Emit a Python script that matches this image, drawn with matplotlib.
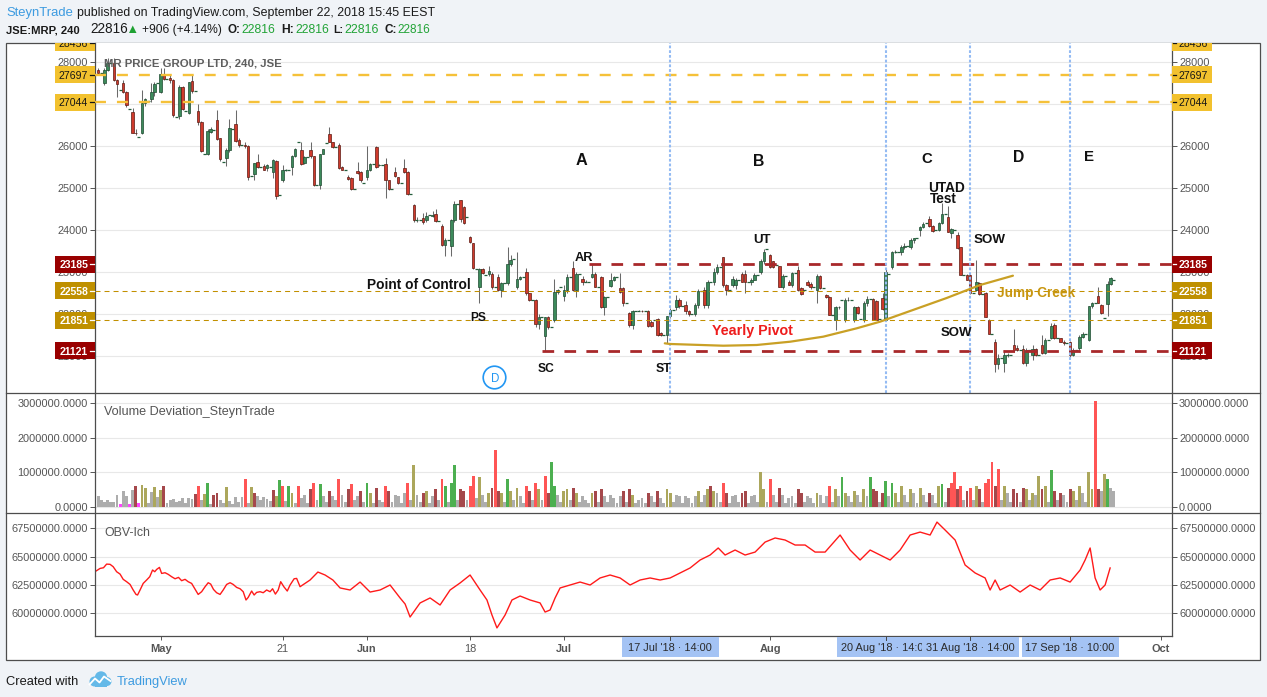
import matplotlib
matplotlib.use("Agg")
import matplotlib.pyplot as plt
import matplotlib.transforms as mtransforms
from matplotlib.patches import Rectangle, Circle, Polygon
from matplotlib.lines import Line2D
from matplotlib.ticker import FuncFormatter
import numpy as np

plt.rcParams['lines.scale_dashes'] = False
plt.rcParams['font.family'] = ['Liberation Sans', 'DejaVu Sans']

# ---------------- data ----------------
# bar index: 0 = 2 May 2018 10:00 ; three 4h bars per JSE day (10:00, 14:00, 18:00 auction)
first_bar = -20

opens = [
    27800, 27740,
    27490, 27810, 27980, 27980, 27560, 27330, 27490, 27280, 26880, 26820, 26320, 26210,
    26320, 27020, 27080, 27120, 27280, 27490, 27290, 27710, 27600, 27630, 27560, 26700,
    26710, 27400, 26830, 26790, 27540, 27300, 26830, 26560, 25800, 25820, 26330, 26380,
    26620, 26180, 25610, 25720, 25900, 26410, 26520, 26140, 26020, 26030, 26000, 25290,
    25330, 25630, 25510, 25520, 25470, 25500, 25370, 25640, 24830, 25180, 25430, 25430,
    25510, 25760, 26090, 25900, 25590, 25730, 25900, 25750, 25060, 25060, 25820, 26060,
    26280, 26090, 25970, 26020, 25510, 25440, 25270, 25230, 24970, 25400, 25390, 25130,
    25250, 25430, 25560, 25970, 25540, 25550, 25560, 25180, 24970, 25370, 25250, 25130,
    25470, 25370, 24860, 24600, 24240, 24240, 24280, 24240, 24360, 24340, 24370, 24220,
    24100, 23640, 23750, 23620, 24240, 24610, 24710, 24540, 24300, 23830, 23680, 23070,
    22650, 23060, 22930, 22950, 22950, 22650, 22870, 22570, 22730, 22730, 23190, 23300,
    22650, 22830, 22880, 22990, 22490, 22330, 22330, 21750, 21940, 21470, 21940, 21690,
    21860, 22530, 22650, 22430, 22570, 22870, 23090, 22570, 22950, 22830, 22760, 22760,
    22870, 22950, 22650, 22870, 22160, 22400, 22670, 22810, 22870, 22610, 22610, 22250,
    22020, 21740, 22080, 22080, 22080, 22070, 22060, 21820, 21850, 21870, 21550, 21500,
    21500, 21950, 22100, 22170, 22330, 22180, 22210, 22060, 22000, 22000, 22210, 22550,
    22570, 22210, 22770, 22770, 23010, 23130, 23350, 22690, 22570, 22690, 22680, 22800,
    22950, 22950, 22770, 22750, 22810, 22930, 23010, 23250, 23550, 23400, 23250, 23170,
    23140, 22650, 22900, 22770, 22690, 22970, 23050, 22610, 22560, 22770, 22720, 22640,
    22570, 22900, 22610, 22450, 22400, 21980, 21860, 22160, 22330, 21860, 22330, 22340,
    21860, 22160, 21870, 21860, 22250, 22350, 22350, 22300, 21880, 22370, 21860, 22950,
    23110, 23480, 23480, 23480, 23600, 23620, 23600, 23760, 23800, 24000, 24080, 24160,
    24250, 24100, 23990, 24000, 24160, 24380, 24320, 23940, 24000, 23880, 23590, 22930,
    22930, 22930, 22490, 22570, 22730, 22480, 22510, 21860, 21520, 21340, 20800, 20950,
    20830, 21020, 21020, 21260, 21200, 21140, 21160, 20830, 21140, 21020, 21160, 21020,
    21260, 21080, 21380, 21420, 21740, 21420, 21420, 21340, 21300, 21340, 21030, 21140,
    21180, 21460, 21520, 21380, 22180, 22250, 22430, 22210, 21910, 22240, 22710, 22816,
]
highs = [
    27850, 27740,
    27850, 28100, 27980, 28100, 27600, 27330, 27560, 27300, 26880, 26900, 26400, 26210,
    27330, 27150, 27080, 27490, 27520, 27490, 27850, 27850, 27600, 27680, 27600, 26700,
    27450, 27420, 26830, 27520, 27700, 27300, 27000, 26600, 25800, 26400, 26450, 26380,
    26850, 26200, 25610, 25950, 26650, 26410, 26850, 26180, 26020, 26100, 26030, 25290,
    25600, 25800, 25510, 25560, 25560, 25500, 25680, 25660, 24830, 25540, 25450, 25430,
    25780, 25950, 26090, 26100, 25750, 25730, 26100, 25760, 25060, 25820, 25940, 26060,
    26450, 26100, 25970, 26080, 25530, 25440, 25300, 25250, 24970, 25630, 25400, 25130,
    26000, 25600, 25560, 26000, 25560, 25550, 25710, 25200, 24970, 25500, 25260, 25130,
    25700, 25400, 24860, 24620, 24300, 24240, 24400, 24420, 24360, 24450, 24500, 24220,
    24150, 23800, 23750, 24250, 24700, 24610, 24720, 24560, 24300, 23850, 23700, 23070,
    23100, 23100, 22930, 23150, 23000, 22650, 22950, 22750, 22730, 23590, 23400, 23300,
    23480, 22900, 22880, 23100, 22500, 22330, 22350, 22000, 21940, 21940, 21960, 21690,
    22830, 22600, 22650, 22700, 22950, 22870, 23250, 23000, 22950, 22900, 22800, 22760,
    23200, 23000, 22650, 22900, 22420, 22400, 22970, 22900, 22870, 22970, 22650, 22250,
    22050, 22100, 22080, 22100, 22100, 22070, 22100, 21850, 21850, 21900, 21580, 21500,
    21950, 22150, 22100, 22450, 22380, 22180, 22300, 22100, 22000, 22250, 22600, 22550,
    22650, 22800, 22770, 23100, 23200, 23130, 23360, 22720, 22570, 22900, 22850, 22800,
    23000, 23050, 22770, 22850, 22980, 22930, 23300, 23550, 23550, 23420, 23260, 23170,
    23150, 22950, 22900, 22800, 22990, 22970, 23150, 22650, 22560, 22800, 22750, 22640,
    22950, 22920, 22610, 22470, 22420, 21980, 22200, 22200, 22330, 22380, 22400, 22340,
    22200, 22180, 21870, 22300, 22420, 22350, 22380, 22330, 21880, 22500, 23100, 22950,
    23500, 23520, 23480, 23650, 23700, 23620, 23800, 23820, 23800, 24100, 24180, 24160,
    24330, 24120, 23990, 24200, 24640, 24380, 24570, 24050, 24000, 23950, 23600, 22930,
    22960, 22950, 22490, 23290, 22760, 22480, 22520, 21870, 21520, 21400, 21050, 20950,
    21150, 21060, 21020, 21650, 21250, 21140, 21260, 21200, 21140, 21250, 21200, 21020,
    21500, 21420, 21380, 21780, 21780, 21420, 21430, 21380, 21300, 21350, 21200, 21140,
    21500, 21560, 21520, 22200, 22280, 22250, 22650, 22230, 21910, 22780, 22880, 22816,
]
lows = [
    27700, 27740,
    27460, 27780, 27980, 27540, 27170, 27330, 27250, 26940, 26880, 26300, 26250, 26210,
    26280, 26950, 27080, 27050, 27200, 27490, 27250, 27560, 27600, 27500, 26700, 26700,
    26650, 26850, 26830, 26750, 27250, 27300, 26500, 25850, 25800, 25780, 26300, 26380,
    26150, 25650, 25610, 25530, 25850, 26410, 26100, 25980, 26020, 25950, 25200, 25290,
    25200, 25480, 25510, 25420, 25400, 25500, 25230, 24730, 24830, 25150, 25400, 25430,
    25300, 25740, 26090, 25550, 25560, 25730, 25720, 25050, 25060, 24980, 25800, 26060,
    26090, 25950, 25970, 25450, 25420, 25440, 25190, 24950, 24970, 25330, 25150, 25130,
    25200, 25400, 25560, 25470, 25520, 25550, 24750, 24950, 24970, 25270, 25100, 25130,
    25360, 24840, 24860, 24200, 24200, 24240, 24150, 24200, 24360, 24300, 24200, 24220,
    23620, 23380, 23750, 23380, 24200, 24610, 24200, 24150, 24300, 23700, 23080, 23070,
    22250, 22950, 22930, 22900, 22600, 22650, 22550, 22400, 22730, 22700, 23150, 23300,
    22600, 22800, 22880, 22450, 22300, 22330, 21700, 21650, 21940, 21121, 21650, 21690,
    21800, 22480, 22650, 22300, 22500, 22870, 22550, 22400, 22950, 22700, 22750, 22760,
    22850, 22640, 22650, 22150, 21980, 22400, 22650, 22790, 22870, 22500, 22200, 22250,
    21700, 21650, 22080, 22060, 22050, 22070, 21700, 21690, 21850, 21480, 21480, 21500,
    21300, 21900, 22100, 22100, 22150, 22180, 22000, 21950, 22000, 21950, 22150, 22550,
    22150, 22150, 22770, 22700, 22950, 23130, 22650, 22450, 22570, 22650, 22600, 22800,
    22750, 22500, 22770, 22700, 22800, 22930, 22950, 23200, 23550, 23100, 23100, 23170,
    22650, 22600, 22900, 22680, 22650, 22970, 22550, 22450, 22560, 22660, 22600, 22640,
    22250, 22600, 22610, 22380, 21980, 21980, 21620, 22130, 22330, 21800, 22300, 22340,
    21800, 22000, 21870, 21800, 22200, 22350, 21850, 21850, 21880, 22100, 21850, 22950,
    23080, 23450, 23480, 23400, 23550, 23620, 23550, 23700, 23800, 23850, 24050, 24160,
    24080, 23960, 23990, 23980, 24150, 24380, 23950, 23800, 24000, 23550, 22920, 22930,
    22800, 22480, 22490, 22550, 22460, 22480, 21930, 21520, 21520, 20630, 20700, 20950,
    20630, 20980, 21020, 21100, 21120, 21140, 20800, 20750, 21140, 20900, 21000, 21020,
    21050, 21050, 21380, 21400, 21400, 21420, 21330, 21250, 21300, 20980, 21000, 21140,
    21100, 21440, 21520, 21350, 22150, 22250, 22250, 22000, 21910, 21950, 22680, 22816,
]
closes = [
    27730, 27740,
    27810, 27980, 27980, 27560, 27470, 27330, 27290, 26980, 26880, 26320, 26300, 26210,
    27020, 27110, 27080, 27280, 27480, 27490, 27710, 27590, 27600, 27570, 26740, 26700,
    27400, 26870, 26830, 27520, 27320, 27300, 26560, 25890, 25800, 26360, 26400, 26380,
    26160, 25680, 25610, 25900, 26420, 26410, 26130, 26020, 26020, 26000, 25250, 25290,
    25590, 25510, 25510, 25440, 25540, 25500, 25660, 24810, 24830, 25430, 25430, 25430,
    25760, 25930, 26090, 25570, 25730, 25730, 25750, 25070, 25060, 25810, 25930, 26060,
    26100, 25970, 25970, 25470, 25440, 25440, 25210, 24970, 24970, 25350, 25190, 25130,
    25440, 25560, 25560, 25490, 25550, 25550, 25180, 24970, 24970, 25290, 25130, 25130,
    25370, 24860, 24860, 24240, 24240, 24240, 24190, 24340, 24360, 24360, 24220, 24220,
    23640, 23750, 23750, 24240, 24610, 24610, 24260, 24160, 24300, 23710, 23090, 23070,
    23060, 22970, 22930, 23030, 22650, 22650, 22570, 22730, 22730, 23190, 23290, 23300,
    22830, 22880, 22880, 22490, 22330, 22330, 21750, 21940, 21940, 21940, 21680, 21690,
    22530, 22560, 22650, 22570, 22870, 22870, 22570, 22950, 22950, 22760, 22760, 22760,
    22950, 22650, 22650, 22160, 22400, 22400, 22810, 22870, 22870, 22530, 22250, 22250,
    21740, 22060, 22080, 22080, 22070, 22070, 21710, 21710, 21850, 21500, 21500, 21500,
    21950, 22100, 22100, 22330, 22180, 22180, 22060, 22000, 22000, 22210, 22550, 22550,
    22210, 22770, 22770, 23010, 23130, 23130, 22690, 22570, 22570, 22830, 22800, 22800,
    22770, 22770, 22770, 22800, 22930, 22930, 23250, 23480, 23550, 23130, 23130, 23170,
    22650, 22900, 22900, 22690, 22970, 22970, 22570, 22480, 22560, 22680, 22640, 22640,
    22900, 22610, 22610, 22400, 21980, 21980, 22160, 22170, 22330, 22330, 22340, 22340,
    22160, 22020, 21870, 22250, 22350, 22350, 21860, 21860, 21880, 22130, 23010, 22950,
    23480, 23480, 23480, 23600, 23620, 23620, 23760, 23800, 23800, 24080, 24140, 24160,
    24100, 23980, 23990, 24160, 24380, 24380, 23960, 24020, 24000, 23560, 22930, 22930,
    22810, 22490, 22490, 22750, 22480, 22480, 21940, 21520, 21520, 20800, 20950, 20950,
    21020, 21020, 21020, 21140, 21140, 21140, 20830, 21140, 21140, 21160, 21020, 21020,
    21080, 21380, 21380, 21720, 21420, 21420, 21340, 21300, 21300, 21030, 21140, 21140,
    21460, 21520, 21520, 22180, 22250, 22250, 22270, 22020, 21910, 22710, 22850, 22816,
]

# volume deviation (thousands of shares) and colour class per bar
volumes_k = [
    320, 180,
    150, 190, 140, 130, 350, 80, 450, 300, 70, 480, 600, 100,
    620, 550, 120, 420, 570, 280, 490, 600, 100, 200, 230, 130,
    160, 250, 110, 250, 220, 380, 600, 190, 370, 700, 80, 330,
    400, 180, 100, 570, 160, 90, 280, 140, 280, 800, 120, 570,
    400, 300, 180, 280, 220, 160, 480, 300, 780, 600, 160, 600,
    400, 110, 600, 250, 350, 120, 520, 700, 200, 650, 300, 150,
    450, 300, 180, 800, 350, 150, 500, 650, 200, 300, 450, 150,
    700, 400, 120, 550, 200, 150, 600, 450, 150, 350, 300, 120,
    400, 700, 200, 1200, 350, 150, 400, 450, 120, 300, 500, 200,
    800, 600, 150, 700, 1200, 200, 500, 450, 200, 600, 900, 250,
    850, 350, 150, 400, 550, 1650, 450, 400, 150, 800, 450, 200,
    550, 300, 120, 600, 450, 200, 700, 500, 180, 900, 400, 1300,
    600, 350, 150, 450, 500, 200, 550, 400, 150, 300, 200, 120,
    400, 450, 150, 500, 300, 150, 350, 250, 100, 300, 450, 150,
    500, 350, 120, 200, 250, 100, 400, 300, 150, 450, 250, 120,
    500, 400, 150, 350, 300, 120, 300, 250, 100, 300, 450, 150,
    350, 500, 600, 450, 400, 150, 700, 400, 120, 300, 350, 150,
    400, 450, 120, 300, 350, 150, 1000, 500, 150, 800, 350, 150,
    550, 350, 120, 250, 300, 100, 500, 400, 150, 300, 250, 100,
    400, 350, 120, 300, 600, 150, 500, 300, 850, 400, 300, 150,
    450, 350, 150, 500, 300, 850, 500, 450, 150, 400, 750, 300,
    700, 400, 150, 600, 350, 150, 500, 400, 120, 550, 350, 150,
    400, 350, 120, 600, 650, 150, 550, 700, 1000, 500, 600, 200,
    450, 550, 200, 600, 500, 150, 700, 800, 1300, 600, 1100, 200,
    600, 400, 150, 500, 400, 150, 550, 500, 200, 400, 350, 900,
    500, 600, 150, 1050, 450, 200, 400, 350, 150, 500, 450, 200,
    600, 400, 150, 1000, 500, 3050, 500, 450, 950, 800, 550, 450,
]
vol_kind = "".join([
    "nn",
    "nnn", "nnm", "nnm", "ndm", "oon", "non", "odn", "nnn", "nnn", "nnd", "rno", "gnd",
    "dnn", "onn", "nnn", "rno", "dnn", "nnn", "dog", "rng", "onr", "nnn", "drn", "gnn",
    "dnn", "rnn", "drn", "ndn", "gon", "dnn", "rdn", "nnn", "nrn", "onn", "don", "ndn",
    "rgn", "ggn", "ddn", "rrn", "onn", "odr", "don", "gon", "onn", "rdn", "ron", "rdg",
    "gnn", "oon", "don", "nnn", "odn", "dnn", "nnn", "ndn", "don", "nnn", "dnn", "dnn",
    "oon", "nnn", "nnn", "non", "nod", "onn", "rdn", "nnn", "ddn", "nnn", "oon", "rnn",
    "dnn", "nnn", "ddn", "nnn", "onn", "nrn", "ong", "onn", "onn", "ong", "ddn", "dgn",
    "gon", "onn", "onn", "onn", "dnn", "ogn", "drr", "drn", "drn", "odn", "rrr", "drn",
    "onn", "ddn", "don", "ono", "don", "gdn", "dnn", "don", "onn", "oor", "dno", "gnn",
])

# OBV-Ich line (bar position, value in millions)
obv_bar = [-20.7, -19.4, -18.3, -17.3, -16.2, -15.2, -14.1, -13.0, -12.0, -10.9, -9.8, -8.8,
           -7.9, -7.4, -6.6, -5.6, -4.5, -3.5, -2.6, -1.9, -1.3, -0.4, 0.3, 1.4, 2.4, 3.5,
           4.6, 5.7, 6.7, 7.8, 8.8, 9.9, 11.0, 12.0, 13.1, 14.2, 15.2, 16.0, 16.9, 17.9,
           19.0, 20.0, 21.1, 22.2, 23.2, 24.3, 25.4, 26.4, 27.3, 28.0, 29.1, 29.9, 30.7,
           31.8, 32.8, 33.9, 35.0, 35.8, 36.7, 37.6, 38.4, 39.4, 40.5, 41.4, 42.7, 43.5,
           44.6, 47.8, 50.3, 52.6, 55.1, 57.4, 60.6, 63.8, 67.0, 70.2, 73.4, 76.6, 78.2,
           79.8, 83.0, 86.2, 89.4, 92.6, 95.8, 99.0, 102.2, 104.4, 106.0, 107.6, 110.2,
           112.4, 115.0, 118.2, 121.4, 123.0, 124.6, 126.2, 127.8, 131.0, 134.2, 137.4,
           140.6, 143.8, 147.0, 150.2, 153.4, 156.6, 159.8, 163.0, 166.2, 169.4, 172.6,
           175.8, 178.4, 180.6, 183.8, 187.0, 190.2, 193.4, 196.6, 199.8, 203.0, 206.2,
           209.4, 212.6, 217.4, 220.6, 223.8, 227.0, 230.2, 233.4, 236.6, 239.8, 243.0,
           246.2, 248.4, 251.0, 254.2, 257.4, 260.6, 263.8, 265.4, 267.0, 268.6, 271.8,
           275.0, 278.2, 281.4, 284.6, 287.8, 291.0, 294.2, 295.8, 297.4, 299.0, 300.6,
           302.2, 303.8]
obv_val = [63.73, 63.96, 64.02, 64.34, 64.32, 64.11, 63.67, 63.46, 63.00, 62.79, 62.55, 62.06,
           61.67, 61.62, 62.06, 62.64, 62.94, 63.23, 63.82, 63.67, 63.87, 64.05, 63.52, 63.58,
           63.44, 63.23, 63.05, 63.17, 62.88, 63.00, 62.79, 62.64, 62.14, 61.67, 61.91, 62.35,
           62.70, 62.58, 62.11, 61.82, 61.67, 62.06, 62.55, 62.70, 62.55, 62.29, 62.17, 61.91,
           61.18, 61.41, 61.97, 61.62, 61.85, 61.91, 61.82, 62.06, 61.91, 62.17, 61.70, 62.06,
           62.79, 62.35, 61.97, 62.50, 63.05, 63.08, 62.35, 62.94, 63.64, 63.38, 62.94, 62.24,
           62.06, 62.76, 61.88, 62.06, 62.50, 61.36, 60.83, 59.68, 60.92, 61.36, 60.74, 62.06,
           62.68, 63.38, 62.06, 61.18, 59.86, 58.72, 59.86, 61.18, 61.53, 61.18, 60.92, 60.12,
           60.30, 61.36, 62.24, 62.50, 62.76, 62.50, 63.12, 63.38, 63.12, 62.50, 62.94, 63.12,
           62.94, 63.12, 63.56, 64.00, 64.70, 65.14, 65.76, 65.14, 65.58, 65.14, 65.40, 66.28,
           66.64, 66.46, 66.02, 66.02, 65.40, 65.40, 66.90, 65.58, 64.70, 65.58, 65.14, 64.70,
           65.58, 66.90, 67.16, 66.90, 68.04, 67.34, 66.46, 64.26, 63.56, 63.12, 62.06, 62.94,
           62.06, 62.50, 61.88, 62.50, 62.06, 62.94, 63.12, 62.76, 63.82, 64.70, 65.76, 63.12,
           62.06, 62.50, 64.00]

# horizontal levels
yellow_levels = [27697, 27044]
red_levels = [23185, 21121]
red_level_start = [137, 122]          # AR bar, SC bar
gold_levels = [22558, 21851]           # Point of Control, PS level
marker_bars = [163, 232, 259, 291]
marker_labels = ["17 Jul '18 \u00b7 14:00", "20 Aug '18 \u00b7 14:00",
                 "31 Aug '18 \u00b7 14:00", "17 Sep '18 \u00b7 10:00"]
axis_label_values = [28456, 27697, 27044, 23185, 22558, 21851, 21121]
axis_label_kinds = ['y', 'y', 'y', 'r', 'g', 'g', 'r']
# hand-drawn "Jump Creek" curve
curve_bar = [161.3, 163.0, 180.0, 190.7, 201.4, 212.0, 222.7, 230.2, 240.7, 251.5, 262.2, 272.7]
curve_price = [21302, 21286, 21245, 21262, 21340, 21460, 21659, 21817, 22095, 22381, 22690, 22912]
price_ticks = [21000, 22000, 23000, 24000, 25000, 26000, 27000, 28000]
price_tick_labels = ['21000', '22000', '23000', '24000', '25000', '26000', '', '28000']
time_tick_bars = [0, 39, 66, 99, 129, 195, 320]
time_tick_labels = ['May', '21', 'Jun', '18', 'Jul', 'Aug', 'Oct']

# ---------------- figure ----------------
W, H = 1267, 697
fig = plt.figure(figsize=(W / 100, H / 100), dpi=100)
fig.patch.set_facecolor('#f0f3f7')
pxT = mtransforms.Affine2D().scale(1.0 / W, -1.0 / H).translate(0, 1) + fig.transFigure
renderer = fig.canvas.get_renderer()
GRAY = '#555555'
EDGE = '#4d4d4d'


def rect_px(x0, y0, x1, y1):
    return [x0 / W, 1 - y1 / H, (x1 - x0) / W, (y1 - y0) / H]


def put(s, x, y, width=None, size=10, ha='left', va='baseline', **kw):
    t = fig.text(x, y, s, transform=pxT, fontsize=size, ha=ha, va=va, **kw)
    if width:
        w = t.get_window_extent(renderer=renderer).width
        if w > 0:
            t.set_fontsize(size * width / w)
    return t


fig.add_artist(Rectangle((6, 43), 1254, 617, transform=pxT, facecolor='white',
                         edgecolor=EDGE, lw=0.9, zorder=-1))

L, R = 95, 1172
ax_p = fig.add_axes(rect_px(L, 43, R, 393))
ax_v = fig.add_axes(rect_px(L, 393, R, 513), sharex=ax_p)
ax_o = fig.add_axes(rect_px(L, 513, R, 636), sharex=ax_p)

for ax in (ax_p, ax_v, ax_o):
    ax.set_facecolor('white')
    for s in ax.spines.values():
        s.set_color(EDGE)
        s.set_linewidth(0.9)
    ax.spines['top'].set_visible(False)
    ax.tick_params(axis='y', which='both', left=True, right=True, labelleft=True,
                   labelright=True, direction='out', length=3.6, width=0.7, color=GRAY,
                   labelcolor=GRAY, labelsize=7.9, pad=1.5)
    ax.grid(axis='y', color='#e8e8e8', lw=0.8)
    ax.set_axisbelow(True)
for ax in (ax_p, ax_v):
    ax.spines['bottom'].set_visible(False)
    ax.tick_params(axis='x', bottom=False, labelbottom=False)

ax_p.set_xlim(-21.02, 323.6)
ax_p.set_ylim(20119, 28452)
ax_p.set_yticks(price_ticks)
ax_p.set_yticklabels(price_tick_labels)

# ---- candles ----
o = np.array(opens, float)
h = np.array(highs, float)
lo = np.array(lows, float)
c = np.array(closes, float)
n = min(len(o), len(h), len(lo), len(c))
o, h, lo, c = o[:n], h[:n], lo[:n], c[:n]
bars = np.arange(first_bar, first_bar + n)
ax_p.vlines(bars, lo, h, color='#6a6a6a', lw=0.75, zorder=2)
flat = o == c
up = c > o
body = ~flat
faces = np.where(up, '#3c8a5b', '#cf3a2c')
edges = np.where(up, '#1d4a30', '#5c1a12')
ax_p.bar(bars[body], np.abs(c - o)[body], bottom=np.minimum(o, c)[body], width=0.8,
         color=faces[body], edgecolor=edges[body], linewidth=0.5, zorder=3)
ax_p.hlines(c[flat], bars[flat] - 0.48, bars[flat] + 0.48, color='#245e3c', lw=0.9, zorder=3)

# ---- level lines ----
for v in yellow_levels:
    ax_p.axhline(v, color='#f5c139', lw=1.7, dashes=(7.9, 7.9), zorder=4)
for v in gold_levels:
    ax_p.axhline(v, color='#c29000', lw=0.75, dashes=(3.6, 2.9), zorder=4)
for v, s in zip(red_levels, red_level_start):
    ax_p.plot([s, 330], [v, v], color='#a8282a', lw=2.0, dashes=(8.4, 7.4), zorder=4,
              solid_capstyle='butt')
for b in marker_bars:
    ax_p.axvline(b, color='#94bbf3', lw=1.5, dashes=(2.0, 1.4), zorder=4)
ax_p.plot(curve_bar, curve_price, color='#c9a025', lw=1.6, zorder=4, solid_capstyle='round')

# ---- volume pane ----
vol_colors = {'n': '#adadad', 'o': '#aca75c', 'g': '#4caf50', 'r': '#ff5555',
              'd': '#a5484b', 'm': '#ff44ff'}
nv = min(len(volumes_k), len(vol_kind))
vbars = np.arange(first_bar, first_bar + nv)
ax_v.bar(vbars, volumes_k[:nv], width=0.92, color=[vol_colors[k] for k in vol_kind[:nv]],
         linewidth=0, zorder=2)
ax_v.set_ylim(-183, 3296)
ax_v.set_yticks([0, 1000, 2000, 3000])
ax_v.yaxis.set_major_formatter(FuncFormatter(lambda v, p: f"{v * 1000:.4f}"))

# ---- OBV pane ----
ax_o.plot(obv_bar, obv_val, color='#ff1a1a', lw=1.0, zorder=2)
ax_o.set_ylim(58.01, 68.84)
ax_o.set_yticks([60, 62.5, 65, 67.5])
ax_o.yaxis.set_major_formatter(FuncFormatter(lambda v, p: f"{v * 1e6:.4f}"))
ax_o.set_xticks(time_tick_bars)
ax_o.set_xticklabels(time_tick_labels)
ax_o.tick_params(axis='x', direction='out', length=3, width=0.7, color=GRAY,
                 labelcolor=GRAY, labelsize=7.9, pad=3)
for t in ax_o.get_xticklabels():
    if t.get_text().isalpha():
        t.set_fontweight('bold')

# separators spanning full frame
for yy in (393, 513):
    fig.add_artist(Line2D([6, 1260], [yy, yy], transform=pxT, color=EDGE, lw=0.9, zorder=2))

# ---- axis price labels ----
box_style = {'y': ('#f2c12e', '#151515', 'normal'),
             'r': ('#990000', 'white', 'bold'),
             'g': ('#bf9000', 'white', 'bold')}
clip_top = mtransforms.Bbox.from_extents(0, 0, W, H - 43)
for val, kind in zip(axis_label_values, axis_label_kinds):
    yp = H - ax_p.transData.transform((0, val))[1]
    fc, tc, fw = box_style[kind]
    for x0, x1, tx, ha, tk in [(55, 95, 88, 'right', (90, 93.5)),
                               (1172, 1212, 1178.5, 'left', (1172.5, 1175.5))]:
        r = Rectangle((x0, yp - 8.5), x1 - x0, 17, transform=pxT, facecolor=fc,
                      edgecolor='none', zorder=5)
        fig.add_artist(r)
        t = fig.text(tx, yp, f"{val}", transform=pxT, ha=ha, va='center_baseline',
                     color=tc, fontsize=7.6, fontweight=fw, zorder=6)
        ln = Line2D(list(tk), [yp, yp], transform=pxT, color=tc, lw=0.9, zorder=6)
        fig.add_artist(ln)
        for a in (r, t, ln):
            a.set_clip_box(clip_top)
            a.set_clip_on(True)

# ---- time-axis highlighted markers ----
for k, (b, lab) in enumerate(zip(marker_bars, marker_labels)):
    xd = ax_o.transData.transform((b, 0))[0]
    fig.add_artist(Rectangle((xd - 48.5, 636.6), 97, 20.4, transform=pxT,
                             facecolor='#a4c3f4', edgecolor='none', zorder=7 + 2 * k))
    fig.text(xd, 647, lab, transform=pxT, ha='center', va='center_baseline', color='#2b2b2b',
             fontsize=7.9, zorder=8 + 2 * k)
    fig.add_artist(Line2D([xd, xd], [636.6, 640], transform=pxT, color='#444',
                          lw=0.7, zorder=8 + 2 * k))

# ---- annotations ----
BLK = '#111111'
AF = dict(fontweight='bold', color=BLK, zorder=6)
for s, x, y, w in [('A', 581.5, 165, 11.7), ('B', 759, 166, 11.3), ('C', 927, 162.7, 10.6),
                   ('D', 1019, 162, 11.3), ('E', 1089, 161, 10.0)]:
    put(s, x, y, width=w, size=12, ha='center', **AF)
for s, x, y, w in [('UTAD', 946.5, 191.7, 36.7), ('Test', 943, 203, 27), ('UT', 762, 242.7, 17.7),
                   ('SOW', 990, 242.7, 32), ('SOW', 956, 335.7, 31.7), ('AR', 584, 260.7, 18.3),
                   ('Point of Control', 418.7, 289, 104), ('PS', 478, 321, 16),
                   ('SC', 545.7, 371.5, 16.7), ('ST', 664, 371.5, 15.7)]:
    put(s, x, y, width=w, size=10, ha='center', **AF)
put('Yearly Pivot', 752.5, 335, width=81, size=10, ha='center', fontweight='bold',
    color='#ee1c1c', zorder=6)
put('Jump Creek', 1036, 297, width=78, size=10, ha='center', fontweight='bold',
    color='#c8960f', zorder=6)
fig.add_artist(Circle((494.5, 377.5), 11.3, transform=pxT, fill=False,
                      edgecolor='#2196f3', lw=1.2, zorder=6))
put('D', 494.8, 382.3, width=8.3, size=9, ha='center', color='#2196f3', zorder=6)

# pane titles
put('MR PRICE GROUP LTD, 240, JSE', 104.5, 66, width=179, size=9, color='#5e5e5e',
    fontweight='bold', zorder=6)
put('Volume Deviation_SteynTrade', 104, 414.5, width=171, size=9, color=GRAY, zorder=6)
put('OBV-Ich', 104, 535.5, width=46, size=9, color=GRAY, zorder=6)

# ---- header ----
put('SteynTrade', 6, 16, width=67, size=9, color='#3d9be0')
put('published on TradingView.com, September 22, 2018 15:45 EEST', 77, 16, width=358,
    size=9, color='#1a1a1a')
put('JSE:MRP, 240', 6, 33.3, width=74, size=9, color='#1a1a1a', fontweight='bold')
put('22816', 90, 33.3, width=38, size=9, color='#1a1a1a')
fig.add_artist(Polygon([(129, 33), (136.5, 33), (132.75, 25.5)], closed=True, transform=pxT,
                       facecolor='#1fa133', edgecolor='none'))
put('+906 (+4.14%)', 142, 33.3, width=80, size=9, color='#1a1a1a')
GREEN = '#21a336'
for lab, x0, w0, x1, w1 in [('O:', 227.7, 13, 241.7, 34.3), ('H:', 281, 13, 295, 34.3),
                            ('L:', 333.3, 10, 344.3, 34.7), ('C:', 384.3, 12.4, 397.3, 32.7)]:
    put(lab, x0, 33.3, width=w0, size=9, color='#1a1a1a', fontweight='bold')
    put('22816', x1, 33.3, width=w1, size=9, color=GREEN)

# ---- footer ----
put('Created with', 6, 685, width=73, size=9, color='#1a1a1a')
for cx, cy, rr in [(94.5, 681.5, 5.0), (101, 677.5, 6.2), (107, 681.5, 4.5)]:
    fig.add_artist(Circle((cx, cy), rr, transform=pxT, facecolor='#64b9e8', edgecolor='none'))
fig.add_artist(Rectangle((94.5, 679), 12.5, 7.5, transform=pxT, facecolor='#64b9e8',
                         edgecolor='none'))
fig.add_artist(Line2D([89.5, 95, 99.5, 104, 110.5], [684.5, 678.5, 682.5, 676.5, 681],
                      transform=pxT, color='white', lw=1.3))
put('TradingView', 117, 685, width=71, size=9, color='#3d9be0')

fig.savefig('out.png', dpi=100, facecolor=fig.get_facecolor())
